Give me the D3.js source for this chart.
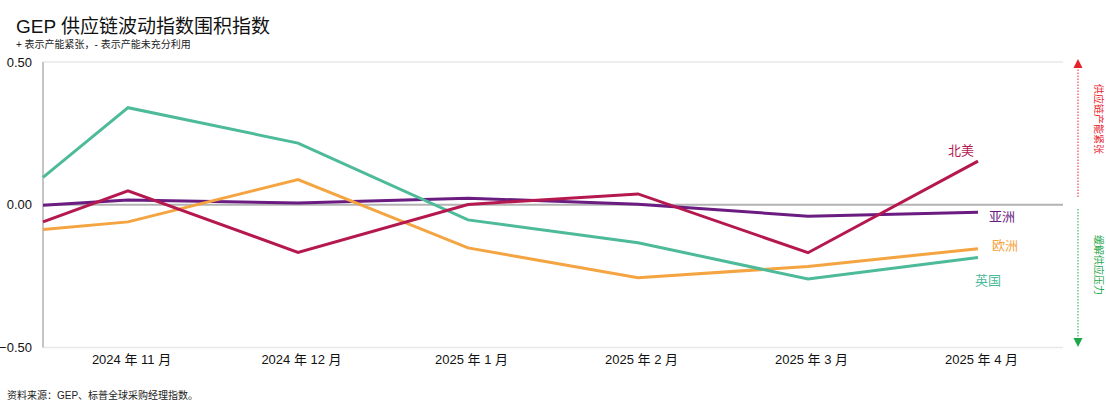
<!DOCTYPE html>
<html>
<head>
<meta charset="utf-8">
<script src="https://cdn.jsdelivr.net/npm/d3@7"></script>
<style>
  body { margin: 0; background: #fff; }
  svg { display: block; font-family: "Liberation Sans", Arial, "Noto Sans CJK SC", sans-serif; }
</style>
</head>
<body>
<svg id="chart" width="1106" height="411"></svg>
<script>
// ---- data ----
const monthIndex = [-0.5, 0, 1, 2, 3, 4, 5];
const tickLabels = ["2024 年 11 月", "2024 年 12 月", "2025 年 1 月", "2025 年 2 月", "2025 年 3 月", "2025 年 4 月"];
const tickIndex = [0, 1, 2, 3, 4, 5];
const seriesNames = ["英国", "北美", "亚洲", "欧洲"];
const ukValues = [0.096, 0.340, 0.216, -0.053, -0.133, -0.260, -0.185];
const naValues = [-0.060, 0.049, -0.167, 0.001, 0.038, -0.168, 0.153];
const asiaValues = [-0.002, 0.017, 0.006, 0.023, 0.002, -0.040, -0.026];
const euValues = [-0.087, -0.060, 0.088, -0.151, -0.256, -0.216, -0.154];
const yTicks = [-0.5, 0, 0.5];

// ---- styles ----
const colors = { "英国": "#4dba99", "北美": "#b5174f", "亚洲": "#6b1c80", "欧洲": "#f4a441" };
const valuesByName = { "英国": ukValues, "北美": naValues, "亚洲": asiaValues, "欧洲": euValues };
const labelPos = { "北美": [961, 149], "亚洲": [1002, 215], "欧洲": [1005, 244], "英国": [988, 279] };

const svg = d3.select("#chart");
const x = d3.scaleLinear().domain([-0.5, 5]).range([43, 978]);
const y = d3.scaleLinear().domain([-0.5, 0.5]).range([347.5, 62]);
const gridRight = 1063;

// gridlines
svg.append("g").selectAll("line").data(yTicks).join("line")
  .attr("x1", 43).attr("x2", gridRight)
  .attr("y1", d => y(d)).attr("y2", d => y(d))
  .attr("stroke", d => d === 0 ? "#b3b3b3" : "#e8e8e8")
  .attr("stroke-width", d => d === 0 ? 2 : 1.5);

// y axis line
svg.append("line").attr("x1", 43).attr("x2", 43)
  .attr("y1", y(0.5)).attr("y2", y(-0.5))
  .attr("stroke", "#c4c4c4").attr("stroke-width", 2);

// y axis labels
const yAxis = d3.axisLeft(y).tickValues(yTicks).tickFormat(d3.format(".2f")).tickSize(0).tickPadding(11);
const gy = svg.append("g").attr("transform", "translate(43,0)").call(yAxis);
gy.select(".domain").remove();
gy.selectAll("text").attr("font-size", 13).attr("fill", "#111")
  .attr("font-family", "'Liberation Sans', Arial, sans-serif");

// x axis labels
const xAxis = d3.axisBottom(x).tickValues(tickIndex).tickFormat((d, i) => tickLabels[i]).tickSize(0).tickPadding(8);
const gx = svg.append("g").attr("transform", "translate(3,347)").call(xAxis);
gx.select(".domain").remove();
gx.selectAll("text").attr("font-size", 13).attr("fill", "#111")
  .attr("font-family", "'Liberation Sans', Arial, 'Noto Sans CJK SC', sans-serif");

// lines
const line = d3.line().x((d, i) => x(monthIndex[i])).y(d => y(d));
const order = ["亚洲", "欧洲", "英国", "北美"];
order.forEach(name => {
  svg.append("path").datum(valuesByName[name])
    .attr("d", line).attr("fill", "none")
    .attr("stroke", colors[name]).attr("stroke-width", 3)
    .attr("stroke-linejoin", "miter");
});

// series labels
svg.append("g").selectAll("text").data(seriesNames).join("text")
  .attr("x", d => labelPos[d][0]).attr("y", d => labelPos[d][1])
  .attr("text-anchor", "middle").attr("dominant-baseline", "central")
  .attr("font-size", 13).attr("font-family", "'Noto Sans CJK SC', sans-serif")
  .attr("fill", d => colors[d]).text(d => d);

// title & notes
svg.append("text").attr("x", 16).attr("y", 33).attr("font-size", 19).attr("fill", "#111")
  .text("GEP 供应链波动指数围积指数");
svg.append("text").attr("x", 16).attr("y", 48).attr("font-size", 10).attr("fill", "#222")
  .text("+ 表示产能紧张，- 表示产能未充分利用");
svg.append("text").attr("x", 7).attr("y", 399).attr("font-size", 10).attr("fill", "#222")
  .text("资料来源：GEP、标普全球采购经理指数。");

// right-side arrows
const red = "#e8202a", green = "#1fa64a";
svg.append("line").attr("x1", 1078).attr("x2", 1078).attr("y1", 197).attr("y2", 67)
  .attr("stroke", red).attr("stroke-width", 1).attr("stroke-dasharray", "1.5,1.5");
svg.append("path").attr("d", "M1078,59 L1082.5,68 L1073.5,68 Z").attr("fill", red);
svg.append("line").attr("x1", 1078).attr("x2", 1078).attr("y1", 209).attr("y2", 339)
  .attr("stroke", green).attr("stroke-width", 1).attr("stroke-dasharray", "1.5,1.5");
svg.append("path").attr("d", "M1078,347 L1082.5,338 L1073.5,338 Z").attr("fill", green);
svg.append("text").attr("transform", "translate(1099,119) rotate(90)")
  .attr("text-anchor", "middle").attr("dominant-baseline", "central")
  .attr("font-size", 10).attr("fill", red).attr("font-family", "'Noto Sans CJK SC', sans-serif")
  .text("供应链产能紧张");
svg.append("text").attr("transform", "translate(1099,265) rotate(90)")
  .attr("text-anchor", "middle").attr("dominant-baseline", "central")
  .attr("font-size", 10).attr("fill", green).attr("font-family", "'Noto Sans CJK SC', sans-serif")
  .text("缓解供应压力");
</script>
</body>
</html>
